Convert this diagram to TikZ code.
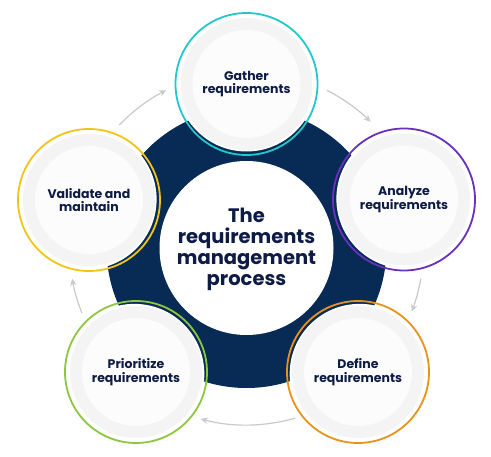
\documentclass[tikz,border=0pt]{standalone}
\usepackage{fontspec}
\setmainfont{Poppins}
\usetikzlibrary{calc,arrows.meta}
\definecolor{navy}{HTML}{072B55}
\definecolor{navytext}{HTML}{0D1B45}
\definecolor{ringgrey}{HTML}{F4F4F4}
\definecolor{innergrey}{HTML}{FCFCFC}
\definecolor{cgather}{HTML}{22C7CC}
\definecolor{canalyze}{HTML}{6B2FC0}
\definecolor{cdefine}{HTML}{E8921A}
\definecolor{cprior}{HTML}{8DC63F}
\definecolor{cvalid}{HTML}{F2C417}
\definecolor{arrowgrey}{HTML}{C9C9C9}
\tikzset{
  sattext/.style={align=center, text=navytext, font=\bfseries\fontsize{12.5}{13.5}\selectfont},
  centertext/.style={align=center, text=navytext, font=\bfseries\fontsize{19.5}{21}\selectfont},
  cycarrow/.style={draw=arrowgrey, line width=1.2pt, -{Stealth[length=7pt,width=6.5pt]}},
}
\begin{document}
\begin{tikzpicture}[x=1pt,y=-1pt]
\useasboundingbox (0,0) rectangle (491,457);
\coordinate (c) at (246.5,248);
% central disk
\fill[navy] (c) circle[radius=140];
\fill[white] (c) circle[radius=87];
\node[centertext] (title) at (246.5,249) {The\\requirements\\management\\process};
% cycle arrows
\draw[cycarrow] ([shift={(-63:177)}]c) arc[start angle=-63, end angle=-45.5, radius=177];
\draw[cycarrow] ([shift={(10:177)}]c) arc[start angle=10, end angle=21, radius=177];
\draw[cycarrow] ([shift={(74:177)}]c) arc[start angle=74, end angle=105, radius=177];
\draw[cycarrow] ([shift={(158.5:177)}]c) arc[start angle=158.5, end angle=170, radius=177];
\draw[cycarrow] ([shift={(-136:177)}]c) arc[start angle=-136, end angle=-117, radius=177];
% satellites
\foreach \n/\x/\y/\col/\txt in {
  gather/246.5/84/cgather/{Gather\\requirements},
  analyze/404/199.5/canalyze/{Analyze\\requirements},
  define/358/372/cdefine/{Define\\requirements},
  prior/136/372/cprior/{Prioritize\\requirements},
  valid/89/200/cvalid/{Validate and\\maintain}}{
  \coordinate (\n) at (\x,\y);
  \fill[white] ($(\n)!-2.5pt!(c)$) circle[radius=70];
  \fill[ringgrey] (\n) circle[radius=66];
  \fill[innergrey] (\n) circle[radius=54];
  \draw[\col, line width=1.8pt] (\n) circle[radius=71];
  \node[sattext] (\n-label) at (\n) {\txt};
}
\end{tikzpicture}
\end{document}
